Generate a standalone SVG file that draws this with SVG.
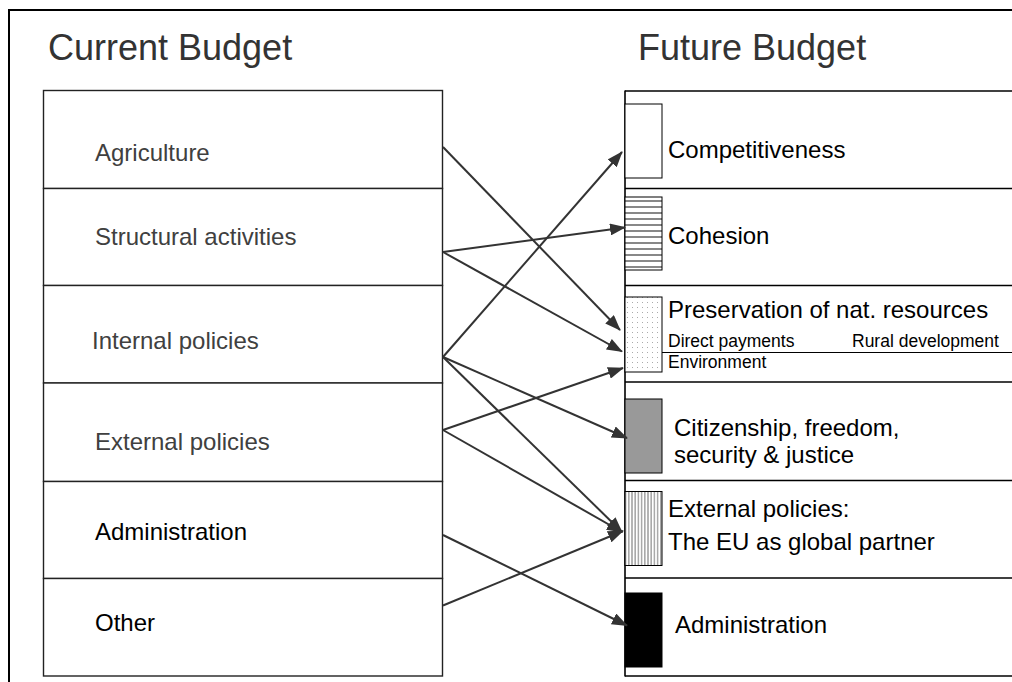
<svg xmlns="http://www.w3.org/2000/svg" width="1012" height="682" viewBox="0 0 1012 682">
<defs>
<style>
text{font-family:"Liberation Sans",Arial,sans-serif;}
.title{font-size:36px;fill:#333;}
.lbl{font-size:24px;fill:#000;}
.lg{fill:#404040;}
.sm{font-size:17.5px;fill:#000;}
.row{fill:#fff;stroke:#222;stroke-width:1.4;}
.sep{stroke:#000;stroke-width:1.6;fill:none;}
.bar{stroke:#000;stroke-width:1;}
.conn{stroke:#333;stroke-width:2;fill:none;marker-end:url(#ah);}
</style>
<marker id="ah" markerUnits="userSpaceOnUse" markerWidth="16" markerHeight="12" viewBox="0 0 16 12" refX="15" refY="6" orient="auto">
<path d="M0,0 L16,6 L0,12 z" fill="#333"/>
</marker>
<pattern id="hl" width="8" height="6" patternUnits="userSpaceOnUse">
<rect width="8" height="6" fill="#fff"/>
<line x1="0" y1="3" x2="8" y2="3" stroke="#555" stroke-width="1.4"/>
</pattern>
<pattern id="vl" width="3.2" height="8" patternUnits="userSpaceOnUse">
<rect width="3.2" height="8" fill="#fff"/>
<line x1="1.6" y1="0" x2="1.6" y2="8" stroke="#666" stroke-width="0.9"/>
</pattern>
<pattern id="dt" width="5" height="5" patternUnits="userSpaceOnUse">
<rect width="5" height="5" fill="#fff"/>
<rect x="2" y="2" width="1" height="1" fill="#aaa"/>
</pattern>
</defs>
<rect width="1012" height="682" fill="#fff"/>
<rect x="9" y="10" width="1010" height="680" fill="none" stroke="#000" stroke-width="2"/>
<text class="title" x="48" y="60">Current Budget</text>
<text class="title" x="638" y="60">Future Budget</text>

<g id="current-budget">
<g id="cur-agriculture"><rect class="row" x="43.5" y="90.5" width="399" height="98"/><text class="lbl lg" x="95" y="161">Agriculture</text></g>
<g id="cur-structural"><rect class="row" x="43.5" y="188.5" width="399" height="97"/><text class="lbl lg" x="95" y="245">Structural activities</text></g>
<g id="cur-internal"><rect class="row" x="43.5" y="285.5" width="399" height="97.5"/><text class="lbl lg" x="92" y="349">Internal policies</text></g>
<g id="cur-external"><rect class="row" x="43.5" y="383" width="399" height="98.5"/><text class="lbl lg" x="95" y="450">External policies</text></g>
<g id="cur-administration"><rect class="row" x="43.5" y="481.5" width="399" height="97"/><text class="lbl" x="95" y="540">Administration</text></g>
<g id="cur-other"><rect class="row" x="43.5" y="578.5" width="399" height="97.5"/><text class="lbl" x="95" y="631">Other</text></g>
</g>

<g id="future-budget">
<line class="sep" x1="625" y1="90.5" x2="625" y2="676.5"/>
<g id="fut-competitiveness"><line class="sep" x1="625" y1="91" x2="1012" y2="91"/><rect class="bar" x="625" y="104" width="37" height="74" fill="#fff"/><text class="lbl" x="668" y="158">Competitiveness</text></g>
<g id="fut-cohesion"><line class="sep" x1="625" y1="188.5" x2="1012" y2="188.5"/><rect class="bar" x="625" y="197" width="37" height="73" fill="url(#hl)"/><text class="lbl" x="668" y="244">Cohesion</text></g>
<g id="fut-preservation"><line class="sep" x1="625" y1="285.5" x2="1012" y2="285.5"/><rect class="bar" x="625" y="297" width="37" height="75" fill="url(#dt)"/><line x1="662" y1="352.5" x2="1012" y2="352.5" stroke="#000" stroke-width="1"/><text class="lbl" x="668" y="318">Preservation of nat. resources</text><text class="sm" x="668" y="346.5">Direct payments</text><text class="sm" x="852" y="346.5">Rural development</text><text class="sm" x="668" y="368">Environment</text></g>
<g id="fut-citizenship"><line class="sep" x1="625" y1="382" x2="1012" y2="382"/><rect class="bar" x="625" y="399" width="37" height="74" fill="#999"/><text class="lbl" x="674" y="436">Citizenship, freedom,</text><text class="lbl" x="674" y="463">security &amp; justice</text></g>
<g id="fut-external"><line class="sep" x1="625" y1="480.5" x2="1012" y2="480.5"/><rect class="bar" x="625" y="491.5" width="37" height="74" fill="url(#vl)"/><text class="lbl" x="668" y="517">External policies:</text><text class="lbl" x="668" y="550">The EU as global partner</text></g>
<g id="fut-administration"><line class="sep" x1="625" y1="578" x2="1012" y2="578"/><rect class="bar" x="625" y="593" width="37" height="74" fill="#000"/><text class="lbl" x="675" y="633">Administration</text><line class="sep" x1="625" y1="676" x2="1012" y2="676"/></g>
</g>

<g id="connectors">
<line class="conn" x1="443" y1="147" x2="620" y2="330"/>
<line class="conn" x1="443" y1="252" x2="625" y2="227.5"/>
<line class="conn" x1="443" y1="252" x2="622" y2="351.5"/>
<line class="conn" x1="443" y1="357" x2="622" y2="152"/>
<line class="conn" x1="443" y1="357" x2="627" y2="438"/>
<line class="conn" x1="443" y1="357" x2="622" y2="532"/>
<line class="conn" x1="443" y1="430" x2="623" y2="368"/>
<line class="conn" x1="443" y1="430" x2="622" y2="532"/>
<line class="conn" x1="443" y1="535" x2="627" y2="625.5"/>
<line class="conn" x1="443" y1="605.5" x2="623" y2="531"/>
</g>
</svg>
